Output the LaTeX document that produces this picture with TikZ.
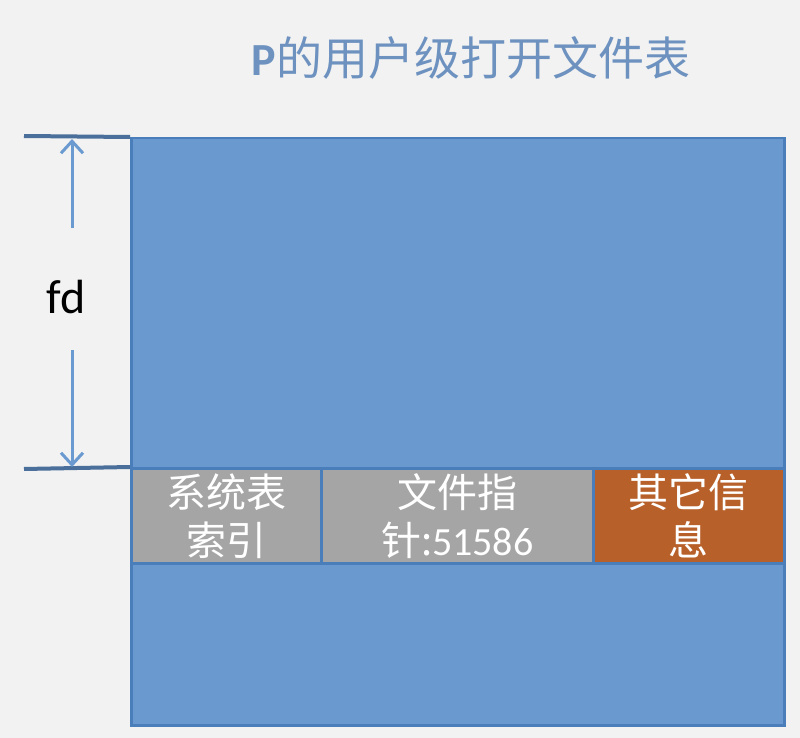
\documentclass[tikz,border=0pt]{standalone}
\usepackage{fontspec}
\setmainfont{Carlito}
\newfontfamily\cjk{Noto Sans CJK SC}
\usetikzlibrary{arrows.meta}
\definecolor{bg}{HTML}{F2F2F2}
\definecolor{boxfill}{HTML}{6A99CF}
\definecolor{boxline}{HTML}{4A7EBB}
\definecolor{greyfill}{HTML}{A5A5A5}
\definecolor{orangefill}{HTML}{B8602A}
\definecolor{tickline}{HTML}{4A6F9A}
\definecolor{arrowcol}{HTML}{6A9AD0}
\definecolor{titlecol}{HTML}{6E92C0}
\tikzset{
  cell/.style={draw=boxline, line width=2.5pt, inner sep=0pt, anchor=north west, text=white, align=center,
     font=\cjk\fontsize{40}{48}\selectfont},
  tick/.style={draw=tickline, line width=4pt},
  dimarrow/.style={draw=arrowcol, line width=3pt, -{Straight Barb[length=12pt,width=22pt,line width=3pt]}},
}
\begin{document}
\begin{tikzpicture}[x=1pt,y=-1pt]
\fill[bg] (0,0) rectangle (800,738);
\useasboundingbox (0,0) rectangle (800,738);
\node[text=titlecol, font=\cjk\fontsize{46}{52}\selectfont] (title) at (471,58) {{\fontspec{Carlito}\bfseries P}的用户级打开文件表};
\node[draw=boxline, fill=boxfill, line width=2.5pt, minimum width=653pt, minimum height=587pt, anchor=north west, inner sep=0pt] (table) at (130,137) {};
\node[cell, fill=greyfill, minimum width=190pt, minimum height=95pt] (c1) at (130,467) {系统表\\索引};
\node[cell, fill=greyfill, minimum width=272pt, minimum height=95pt] (c2) at (320,467) {文件指\\针:{\fontspec{Carlito}51586}};
\node[cell, fill=orangefill, minimum width=191pt, minimum height=95pt] (c3) at (592,467) {其它信\\息};
\coordinate (t1) at (24,136);
\coordinate (t2) at (24,469);
\draw[tick] (t1) -- (table.north west);
\draw[tick] (t2) -- (c1.north west);
\node[font=\fontsize{48}{52}\selectfont] (fd) at (66,297) {fd};
\coordinate (a1s) at (72,228);
\coordinate (a1e) at (72,139);
\coordinate (a2s) at (72,350);
\coordinate (a2e) at (72,467);
\draw[dimarrow] (a1s) -- (a1e);
\draw[dimarrow] (a2s) -- (a2e);
\end{tikzpicture}
\end{document}
